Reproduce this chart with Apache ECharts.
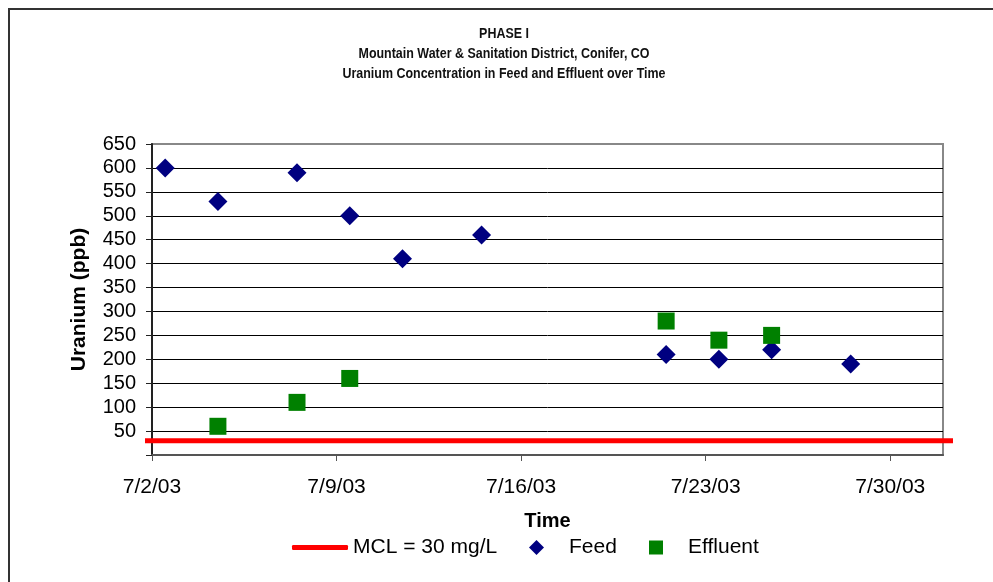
<!DOCTYPE html>
<html>
<head>
<meta charset="utf-8">
<script src="https://cdn.jsdelivr.net/npm/echarts@6/dist/echarts.min.js"></script>
<style>
  html, body { margin: 0; padding: 0; background: #fff; }
  #chart { width: 993px; height: 582px; }
</style>
</head>
<body>
<div id="chart"></div>
<script>
// Sampling times (noon samples) and uranium concentrations, ppb
const feedTimes = ['2003-07-02T12:00', '2003-07-04T12:00', '2003-07-07T12:00', '2003-07-09T12:00', '2003-07-11T12:00',
                   '2003-07-14T12:00', '2003-07-21T12:00', '2003-07-23T12:00', '2003-07-25T12:00', '2003-07-28T12:00'];
const feedValues = [600, 530, 590, 500, 410, 460, 210, 200, 220, 190];

const effluentTimes = ['2003-07-04T12:00', '2003-07-07T12:00', '2003-07-09T12:00',
                       '2003-07-21T12:00', '2003-07-23T12:00', '2003-07-25T12:00'];
const effluentValues = [60, 110, 160, 280, 240, 250];

// Maximum contaminant level
const mclValue = 30;

// Axis ticks
const xTickLabels = ['7/2/03', '7/9/03', '7/16/03', '7/23/03', '7/30/03'];
const xAxisEnd = '8/1/03';
const yMin = 0, yMax = 650, yStep = 50;

const titleLines = ['PHASE I',
  'Mountain Water & Sanitation District, Conifer, CO',
  'Uranium Concentration in Feed and Effluent over Time'];

const DAY = 86400000;
function parseMDY(s) {
  const [m, d, y] = s.split('/').map(Number);
  return Date.UTC(2000 + y, m - 1, d);
}
const baseMs = parseMDY(xTickLabels[0]);
const toDay = iso => (Date.parse(iso + 'Z') - baseMs) / DAY;
const dayLabel = v => {
  const d = new Date(baseMs + v * DAY);
  return (d.getUTCMonth() + 1) + '/' + d.getUTCDate() + '/' + String(d.getUTCFullYear()).slice(2);
};
const xTickDays = xTickLabels.map(s => (parseMDY(s) - baseMs) / DAY);
const xMaxDay = (parseMDY(xAxisEnd) - baseMs) / DAY;

const feedData = feedTimes.map((t, i) => [toDay(t), feedValues[i]]);
const effluentData = effluentTimes.map((t, i) => [toDay(t), effluentValues[i]]);

const FONT = '"Liberation Sans", Arial, sans-serif';

const chart = echarts.init(document.getElementById('chart'), null, { renderer: 'canvas' });

const plotGrid = { left: 152, right: 50, top: 144, bottom: 127 };

chart.setOption({
  animation: false,
  backgroundColor: '#fff',
  textStyle: { fontFamily: FONT },
  graphic: [
    { type: 'rect', shape: { x: 9, y: 9, width: 1200, height: 800 }, silent: true,
      style: { fill: 'none', stroke: '#333', lineWidth: 2 } },
    // condensed title lines
    ...titleLines.map((t, i) => ({
      type: 'text', x: 504, y: [34, 54, 74][i], scaleX: 0.89, scaleY: 1,
      style: { text: t, fill: '#111', font: 'bold 14px ' + FONT, textAlign: 'center', textVerticalAlign: 'middle' }
    }))
  ],
  grid: [
    Object.assign({ show: true, borderColor: '#888', borderWidth: 2, backgroundColor: '#fff' }, plotGrid),
    { left: 145, right: 40, top: plotGrid.top, bottom: plotGrid.bottom }
  ],
  legend: [
    { data: ['MCL = 30 mg/L'], left: 292, top: 537, padding: 0, icon: 'roundRect', itemWidth: 56, itemHeight: 5,
      itemStyle: { color: '#ff0000' },
      textStyle: { fontSize: 21, color: '#000', fontFamily: FONT } },
    { data: ['Feed'], left: 529, top: 537, padding: 0, itemWidth: 15, itemHeight: 15,
      textStyle: { fontSize: 21, color: '#000', fontFamily: FONT, padding: [0, 0, 0, 20] } },
    { data: ['Effluent'], left: 649, top: 537, padding: 0, itemWidth: 14, itemHeight: 14,
      textStyle: { fontSize: 21, color: '#000', fontFamily: FONT, padding: [0, 0, 0, 20] } }
  ],
  xAxis: [
    {
      gridIndex: 0, type: 'value', min: 0, max: xMaxDay,
      name: 'Time', nameLocation: 'middle', nameGap: 56,
      nameTextStyle: { fontSize: 20, fontWeight: 'bold', color: '#000', fontFamily: FONT },
      axisLine: { show: true, lineStyle: { color: '#555', width: 2 } },
      axisTick: { show: true, length: 6, lineStyle: { color: '#555', width: 1 }, customValues: xTickDays },
      axisLabel: { customValues: xTickDays, formatter: dayLabel, fontSize: 21, color: '#000', margin: 22, fontFamily: FONT },
      splitLine: { show: false }
    },
    { gridIndex: 1, type: 'value', min: 0, max: 1, show: false }
  ],
  yAxis: [
    {
      gridIndex: 0, type: 'value', min: yMin, max: yMax, interval: yStep,
      name: 'Uranium (ppb)', nameLocation: 'middle', nameGap: 62, nameRotate: 90,
      nameTextStyle: { fontSize: 21, fontWeight: 'bold', color: '#000', fontFamily: FONT },
      axisLine: { show: true, lineStyle: { color: '#222', width: 2 } },
      axisTick: { show: true, length: 6, lineStyle: { color: '#222', width: 1 } },
      axisLabel: { fontSize: 20, color: '#000', margin: 16, fontFamily: FONT,
                   formatter: v => (v === 0 ? '' : String(v)) },
      splitLine: { show: true, showMinLine: false, showMaxLine: false, lineStyle: { color: '#000', width: 1 } }
    },
    { gridIndex: 1, type: 'value', min: yMin, max: yMax, show: false }
  ],
  series: [
    {
      name: 'MCL = 30 mg/L', type: 'line', xAxisIndex: 1, yAxisIndex: 1,
      data: [[0, mclValue], [1, mclValue]], symbol: 'none', z: 4,
      lineStyle: { color: '#ff0000', width: 5 }, itemStyle: { color: '#ff0000' }
    },
    {
      name: 'Feed', type: 'scatter', xAxisIndex: 0, yAxisIndex: 0, data: feedData,
      symbol: 'diamond', symbolSize: 19, itemStyle: { color: '#000080', opacity: 1 }, z: 3
    },
    {
      name: 'Effluent', type: 'scatter', xAxisIndex: 0, yAxisIndex: 0, data: effluentData,
      symbol: 'rect', symbolSize: 17, itemStyle: { color: '#008000', opacity: 1 }, z: 3
    }
  ]
});
</script>
</body>
</html>
